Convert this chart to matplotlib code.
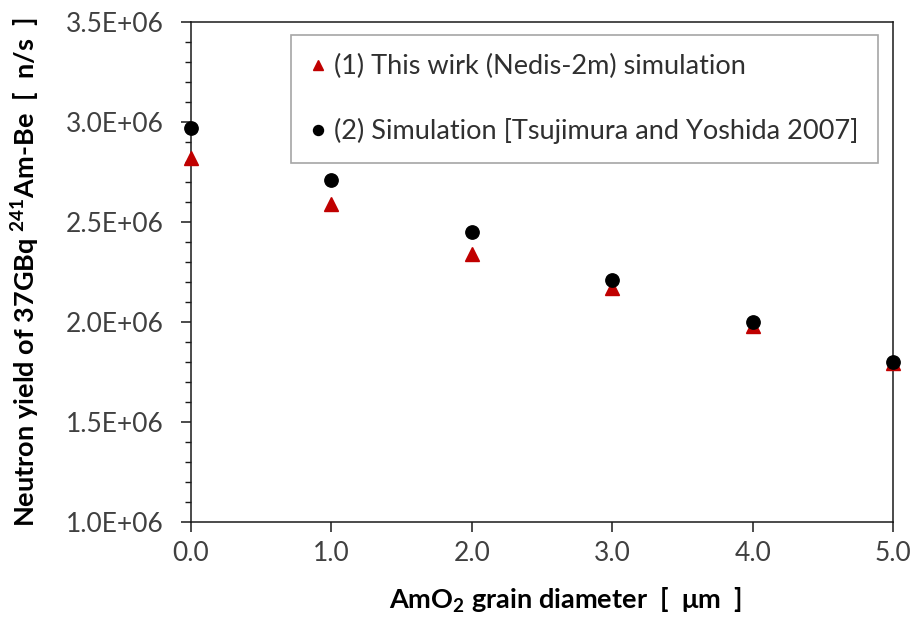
import matplotlib
matplotlib.use('Agg')
import matplotlib.pyplot as plt
from matplotlib.ticker import MultipleLocator, FuncFormatter

plt.rcParams['font.family'] = ['Lato', 'DejaVu Sans']
plt.rcParams['mathtext.fontset'] = 'custom'
plt.rcParams['mathtext.rm'] = 'Lato'
plt.rcParams['mathtext.bf'] = 'Lato:bold'

diameter = [0.0, 1.0, 2.0, 3.0, 4.0, 5.0]
this_work = [2.82e6, 2.59e6, 2.34e6, 2.17e6, 1.98e6, 1.795e6]
tsujimura = [2.97e6, 2.71e6, 2.45e6, 2.21e6, 2.00e6, 1.80e6]
labels = ["(1) This wirk (Nedis-2m) simulation",
          "(2) Simulation [Tsujimura and Yoshida 2007]"]

fig = plt.figure(figsize=(9.16, 6.19), dpi=100)
ax = fig.add_axes([0.2082, 0.1562, 0.767, 0.8088])

ax.plot(diameter, this_work, '^', color='#C00000', markersize=9.6,
        clip_on=False, label=labels[0], zorder=3)
ax.plot(diameter, tsujimura, 'o', color='black', markersize=9.6,
        clip_on=False, label=labels[1], zorder=3)

ax.set_xlim(0, 5)
ax.set_ylim(1.0e6, 3.5e6)
ax.xaxis.set_major_locator(MultipleLocator(1.0))
ax.yaxis.set_major_locator(MultipleLocator(0.5e6))
ax.yaxis.set_minor_locator(MultipleLocator(0.1e6))
ax.xaxis.set_major_formatter(FuncFormatter(lambda v, p: '{:.1f}'.format(v)))
ax.yaxis.set_major_formatter(FuncFormatter(lambda v, p: '{:.1E}'.format(v)))

for s in ax.spines.values():
    s.set_linewidth(1.1)
    s.set_color('#1a1a1a')

ax.tick_params(axis='y', which='major', direction='out', length=7, width=1.1,
               labelsize=19, colors='#1a1a1a', labelcolor='#404040', pad=12.7)
ax.tick_params(axis='y', which='minor', direction='out', length=4, width=1.0,
               colors='#1a1a1a')
ax.tick_params(axis='x', which='major', direction='out', length=7, width=1.1,
               labelsize=19, colors='#1a1a1a', labelcolor='#404040', pad=6.5)

ax.set_xlabel(r'AmO$_{\mathbf{2}}$ grain diameter  [  μm  ]',
              fontsize=19.5, fontweight='bold', labelpad=14, x=0.533)
ax.set_ylabel(r'Neutron yield of 37GBq $^{\mathbf{241}}$Am-Be  [  n/s  ]',
              fontsize=19.5, fontweight='bold', labelpad=17)

leg = ax.legend(loc='upper left', bbox_to_anchor=(0.1428, 0.9734),
                borderaxespad=0, fontsize=19.5, fancybox=False, framealpha=1,
                edgecolor='#a6a6a6', labelspacing=1.45, handletextpad=0.3,
                markerscale=0.75, borderpad=0.7, handlelength=0.6)
leg.get_frame().set_linewidth(1.2)
for t in leg.get_texts():
    t.set_color('#303030')

fig.savefig('out.png', dpi=100)
